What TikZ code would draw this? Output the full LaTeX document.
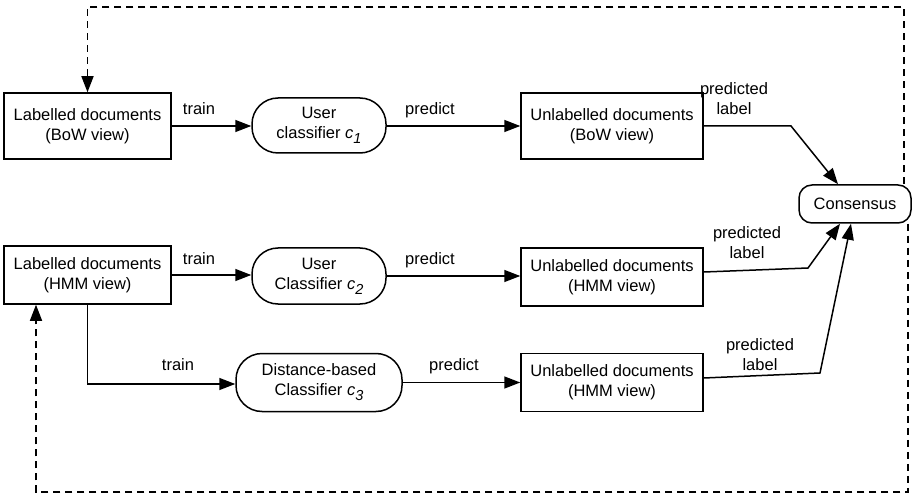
\documentclass[tikz,border=0pt]{standalone}
\usepackage{fontspec}
\setmainfont{Liberation Sans}
\usetikzlibrary{arrows.meta}
% italic classifier symbol with a lowered index
\newcommand{\clsym}[1]{\textit{c}\raisebox{-5pt}{\fontsize{14.5}{14.5}\selectfont\itshape #1}}
\begin{document}
\begin{tikzpicture}[x=1pt,y=-1pt,
  font=\fontsize{16.5}{20}\selectfont,
  lw/.style={line width=1.5pt},
  docbox/.style={draw, lw, align=center, inner sep=0pt, minimum width=167pt},
  udocbox/.style={draw, lw, align=center, inner sep=0pt, minimum width=182pt},
  clsbox/.style={draw, lw, align=center, inner sep=0pt, rounded corners=26pt},
  lbl/.style={align=center, inner sep=0pt},
  arr/.style={lw, -{Triangle[length=16pt,width=12pt]}},
  dsh/.style={arr, dash pattern=on 7pt off 5pt}]
\useasboundingbox (0,0) rectangle (912,494);

% document and classifier nodes
\node[docbox, minimum height=66pt] (L1) at (87.5,126) {Labelled documents\\(BoW view)};
\node[clsbox, minimum width=134pt, minimum height=55pt] (U1) at (319,125.5) {User\\classifier \clsym{1}};
\node[udocbox, minimum height=66pt] (N1) at (612,126) {Unlabelled documents\\(BoW view)};

\node[docbox, minimum height=58pt] (L2) at (87.5,275) {Labelled documents\\(HMM view)};
\node[clsbox, minimum width=134pt, minimum height=56pt] (U2) at (319,276) {User\\Classifier \clsym{2}};
\node[udocbox, minimum height=58pt] (N2) at (612,277) {Unlabelled documents\\(HMM view)};

\node[clsbox, minimum width=166pt, minimum height=58pt] (U3) at (319,382.5) {Distance-based\\Classifier \clsym{3}};
\node[udocbox, minimum height=58pt] (N3) at (612,382.5) {Unlabelled documents\\(HMM view)};

\node[draw, lw, rounded corners=13pt, minimum width=112pt, minimum height=38pt, inner sep=0pt] (C) at (855,204) {Consensus};

% edge labels
\node[lbl, anchor=base] (t1) at (199,115) {train};
\node[lbl, anchor=base] (p1) at (430,115) {predict};
\node[lbl, anchor=base] (t2) at (199,265) {train};
\node[lbl, anchor=base] (p2) at (430,265) {predict};
\node[lbl, anchor=base] (t3) at (178,370) {train};
\node[lbl, anchor=base] (p3) at (454,370) {predict};
\node[lbl] (q1) at (734,99) {predicted\\label};
\node[lbl] (q2) at (747,243) {predicted\\label};
\node[lbl] (q3) at (760,355) {predicted\\label};

% training and prediction flow
\draw[arr] (L1.east) -- (L1.east -| U1.west);
\draw[arr] (U1.east |- L1.east) -- (L1.east -| N1.west);
\draw[arr] (L2.east) -- (L2.east -| U2.west);
\draw[arr] (U2.east) -- (U2.east -| N2.west);
\coordinate (k0) at (87.5,384);
\draw[arr] (L2.south) -- (k0) -- (k0 -| U3.west);
\draw[arr] (U3.east) -- (U3.east -| N3.west);

% predicted labels into the consensus
\coordinate (k1) at (791,126);
\coordinate (k2) at (808,268);
\coordinate (k3) at (820,373);
\draw[arr] (N1.east) -- (k1) -- ([xshift=-17pt]C.north);
\draw[arr] ([yshift=5pt]N2.east) -- (k2) -- ([xshift=-15pt]C.south);
\draw[arr] ([yshift=4.5pt]N3.east) -- (k3) -- ([xshift=-4pt]C.south);

% feedback loops back to the labelled sets
\coordinate (tr) at (904,7);
\coordinate (br) at (908,492);
\coordinate (bl) at (36,492);
\draw[dsh] (tr |- C.north) -- (tr) -- (tr -| L1.north) -- (L1.north);
\draw[dsh] (br |- C.south) -- (br) -- (bl) -- (bl |- L2.south);
\end{tikzpicture}
\end{document}
